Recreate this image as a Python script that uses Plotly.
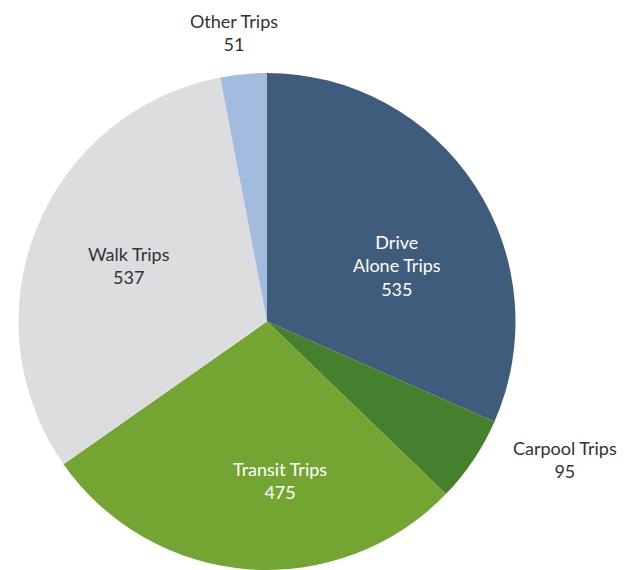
import math
import plotly.graph_objects as go

categories = ["Drive Alone Trips", "Carpool Trips", "Transit Trips", "Walk Trips", "Other Trips"]
label_text = ["Drive<br>Alone Trips", "Carpool Trips", "Transit Trips", "Walk Trips", "Other Trips"]
values = [535, 95, 475, 537, 51]
colors = ["#3f5c7d", "#45802c", "#74a533", "#dcdddf", "#a4bbe0"]
text_colors = ["#ffffff", "#333333", "#ffffff", "#333333", "#333333"]
label_radius = [0.57, 1.32, 0.64, 0.60, 1.17]   # fraction of pie radius
label_angle_shift = [10, -9, -9, 0, -1]         # degrees, clockwise

W, H = 631, 570
cx_px, cy_px, R = 267, 321.5, 248.5

fig = go.Figure(go.Pie(
    labels=categories,
    values=values,
    marker=dict(colors=colors, line=dict(width=0)),
    sort=False,
    direction="clockwise",
    rotation=0,
    textinfo="none",
    hoverinfo="label+value",
    showlegend=False,
    domain=dict(x=[(cx_px - R) / W, (cx_px + R) / W], y=[(H - cy_px - R) / H, (H - cy_px + R) / H]),
))

total = sum(values)
cum = 0
for i, v in enumerate(values):
    mid = (cum + v / 2) / total * 360 + label_angle_shift[i]
    cum += v
    a = math.radians(mid)
    x = cx_px + label_radius[i] * R * math.sin(a)
    y = cy_px - label_radius[i] * R * math.cos(a)
    fig.add_annotation(
        x=x / W, y=1 - y / H, xref="paper", yref="paper",
        text=f"{label_text[i]}<br>{v}",
        showarrow=False, xanchor="center", yanchor="middle",
        font=dict(family="Lato", size=18, color=text_colors[i]),
        align="center",
    )

fig.update_layout(
    width=W, height=H,
    margin=dict(l=0, r=0, t=0, b=0),
    paper_bgcolor="white",
    plot_bgcolor="white",
)

fig.write_html("out.html", config={"displayModeBar": False},
               post_script="document.body.style.margin='0';")
